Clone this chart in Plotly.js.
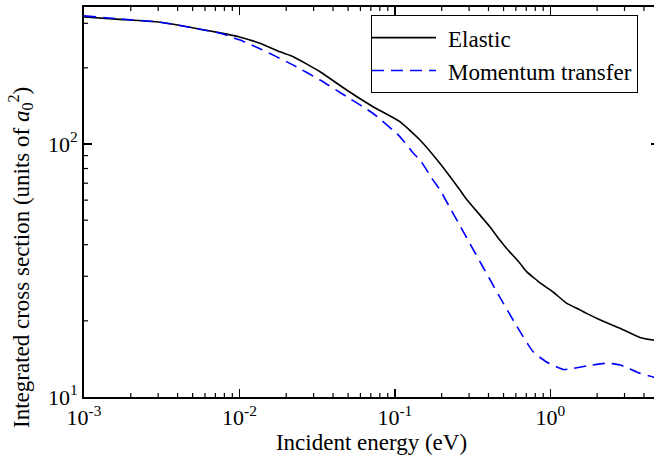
<!DOCTYPE html>
<html>
<head>
<meta charset="utf-8">
<script src="https://cdn.plot.ly/plotly-3.0.1.min.js"></script>
<style>html,body{margin:0;padding:0;overflow:hidden;background:#fff;}#chart{width:660px;height:461px;}</style>
</head>
<body>
<div id="chart"></div>
<script>
// Elastic integrated cross section (units of a0^2) vs incident energy (eV)
var elasticE = [0.001, 0.0017, 0.00308, 0.0075, 0.01, 0.01355, 0.0182, 0.0222, 0.033, 0.0489, 0.0724, 0.1076, 0.145, 0.1945, 0.262, 0.289, 0.408, 0.473, 0.522, 0.637, 0.703, 0.815, 0.855, 1.042, 1.27, 1.55, 1.71, 2.08, 2.80, 3.77, 4.58, 5.0];
var elasticS = [317.6, 311, 303, 275, 265, 250, 231.5, 221.4, 193, 163.5, 140.4, 122.5, 103.7, 83.9, 65.8, 60.5, 47.1, 41.7, 38.7, 33.8, 31.3, 29.0, 28.3, 26.0, 23.5, 22.1, 21.4, 20.2, 18.7, 17.2, 16.8, 16.7];
// Momentum transfer cross section
var momentumE = [0.001, 0.0017, 0.00308, 0.0075, 0.01, 0.01355, 0.0169, 0.0222, 0.033, 0.0489, 0.0724, 0.1076, 0.1313, 0.145, 0.176, 0.1945, 0.226, 0.262, 0.289, 0.370, 0.408, 0.473, 0.607, 0.775, 0.946, 1.21, 1.334, 1.71, 2.30, 2.80, 3.77, 4.58, 5.0];
var momentumS = [321, 312, 303, 274, 258, 238, 223, 205, 179, 154, 132, 107, 92, 86.5, 72, 66, 56, 47.6, 42.7, 32.5, 29.2, 24.8, 19.1, 15.1, 13.75, 12.84, 12.9, 13.26, 13.6, 13.4, 12.4, 12.0, 11.8];

var xTickVals = [0.001, 0.01, 0.1, 1];
var xTickText = ['10<sup>-3</sup>', '10<sup>-2</sup>', '10<sup>-1</sup>', '10<sup>0</sup>'];
var yTickVals = [10, 100];
var yTickText = ['10<sup>1</sup>', '10<sup>2</sup>'];
var yTitle = 'Integrated cross section (units of <i>a</i><sub>0</sub><sup>2</sup>)';
var xTitle = 'Incident energy (eV)';

var xMinor = [];
xTickVals.forEach(function(d){ for (var k = 2; k <= 9; k++) xMinor.push(d * k); });
var yMinor = [];
yTickVals.forEach(function(d){ for (var k = 2; k <= 9; k++) yMinor.push(d * k); });

var tickFont = {family: 'Liberation Serif, Times New Roman, serif', size: 22, color: '#000'};
var textFont = {family: 'Liberation Serif, Times New Roman, serif', size: 23, color: '#000'};
var xRange = [-3, Math.log10(5)];
var yRange = [1, 1 + 390/253];

// minor tick marks (inside, on all four sides) drawn as pixel-sized shapes
var shapes = [];
var tl = {color: '#000', width: 1.2};
xMinor.forEach(function(v){
  shapes.push({type: 'line', xref: 'x', yref: 'paper', x0: v, x1: v, ysizemode: 'pixel', yanchor: 0, y0: 0, y1: 4, line: tl});
  shapes.push({type: 'line', xref: 'x', yref: 'paper', x0: v, x1: v, ysizemode: 'pixel', yanchor: 1, y0: 0, y1: -4, line: tl});
});
yMinor.forEach(function(v){
  shapes.push({type: 'line', xref: 'paper', yref: 'y', y0: v, y1: v, xsizemode: 'pixel', xanchor: 0, x0: 0, x1: 4, line: tl});
  shapes.push({type: 'line', xref: 'paper', yref: 'y', y0: v, y1: v, xsizemode: 'pixel', xanchor: 1, x0: 0, x1: -4, line: tl});
});

var traces = [
  {x: elasticE, y: elasticS, type: 'scatter', mode: 'lines', name: 'Elastic',
   line: {color: '#000000', width: 1.6, shape: 'spline', smoothing: 0.5}},
  {x: momentumE, y: momentumS, type: 'scatter', mode: 'lines', name: 'Momentum transfer',
   line: {color: '#0000ff', width: 1.6, dash: '12px,7px', shape: 'spline', smoothing: 0.5}}
];

var layout = {
  width: 660, height: 461,
  margin: {l: 84, r: 1, t: 7, b: 64},
  paper_bgcolor: '#fff', plot_bgcolor: '#fff',
  font: textFont,
  showlegend: true,
  legend: {x: (638-84)/575, y: 0.979, xanchor: 'right', yanchor: 'top',
           bgcolor: '#fff', bordercolor: '#000', borderwidth: 1,
           font: textFont, itemwidth: 66, tracegroupgap: 0},
  xaxis: {type: 'log', range: xRange,
          tickmode: 'array', tickvals: xTickVals, ticktext: xTickText,
          ticks: 'inside', ticklen: 8, tickwidth: 1.2, tickcolor: '#000',
          showline: true, linecolor: '#000', linewidth: 2, mirror: 'allticks',
          showgrid: false, zeroline: false,
          tickfont: tickFont,
          title: {text: xTitle, font: textFont, standoff: 4}},
  yaxis: {type: 'log', range: yRange,
          tickmode: 'array', tickvals: yTickVals, ticktext: yTickText,
          ticks: 'inside', ticklen: 8, tickwidth: 1.2, tickcolor: '#000',
          showline: true, linecolor: '#000', linewidth: 2, mirror: 'allticks',
          showgrid: false, zeroline: false,
          tickfont: tickFont},
  shapes: shapes,
  annotations: [{text: yTitle, textangle: -90, xref: 'paper', yref: 'paper',
                 x: -64/575, y: (397-258)/390, xanchor: 'center', yanchor: 'middle',
                 showarrow: false, font: textFont}]
};

Plotly.newPlot('chart', traces, layout, {displayModeBar: false, staticPlot: true}).then(function(gd){
  gd.querySelectorAll('.legend .legendlines path').forEach(function(p){ p.setAttribute('d', 'M0,0h64'); });
});
</script>
</body>
</html>
